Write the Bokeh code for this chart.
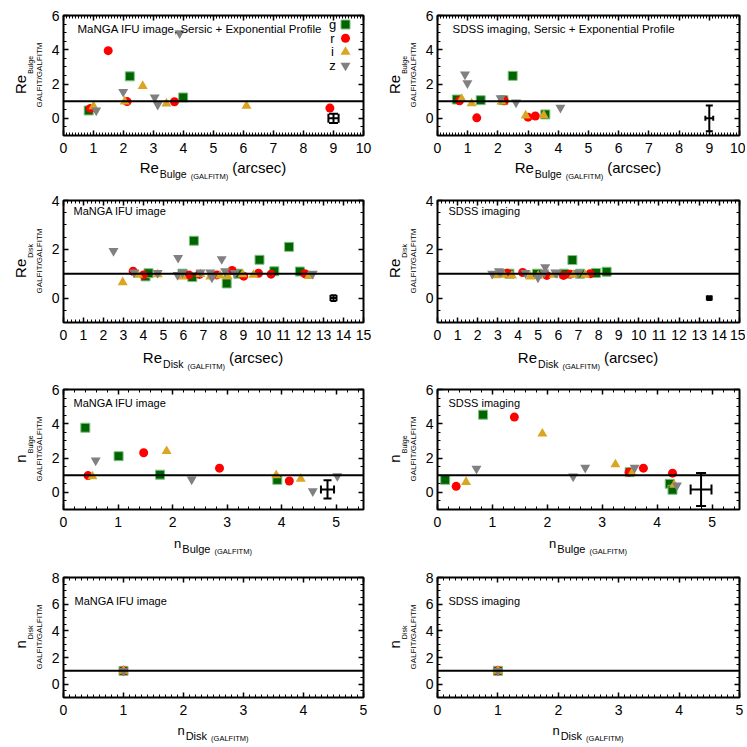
from bokeh.plotting import figure
from bokeh.models import (Range1d, LinearAxis, SingleIntervalTicker, Span, Label,
                          Whisker, TeeHead, ColumnDataSource, Div)
from bokeh.layouts import column, row
from bokeh.embed import file_html
from bokeh.resources import INLINE

# ---------------- data ----------------
# Panel 1: Re bulge, MaNGA IFU
rb_ifu_g_x = [0.84, 2.21, 3.99]
rb_ifu_g_y = [0.46, 2.45, 1.22]
rb_ifu_r_x = [0.90, 1.49, 2.12, 3.70, 8.88]
rb_ifu_r_y = [0.58, 3.95, 0.98, 0.97, 0.60]
rb_ifu_i_x = [1.00, 2.04, 2.64, 3.43, 6.10]
rb_ifu_i_y = [0.70, 0.98, 1.88, 0.86, 0.73]
rb_ifu_z_x = [1.09, 1.99, 3.04, 3.14, 3.87]
rb_ifu_z_y = [0.46, 1.55, 1.22, 0.80, 4.97]
rb_ifu_err = [9.0, 0.0, 0.17, 0.27]

# Panel 2: Re bulge, SDSS
rb_sdss_g_x = [0.64, 1.43, 2.18, 2.49, 3.57]
rb_sdss_g_y = [1.10, 1.06, 1.06, 2.48, 0.23]
rb_sdss_r_x = [0.73, 1.30, 2.21, 3.00, 3.24]
rb_sdss_r_y = [1.03, 0.03, 1.03, 0.07, 0.14]
rb_sdss_i_x = [0.80, 1.13, 2.12, 2.92, 3.52]
rb_sdss_i_y = [1.13, 0.87, 0.98, 0.16, 0.18]
rb_sdss_z_x = [0.91, 0.99, 2.09, 2.60, 4.07]
rb_sdss_z_y = [2.56, 2.05, 1.18, 0.93, 0.62]
rb_sdss_err = [9.0, 0.0, 0.13, 0.75]

# Panel 3: Re disk, MaNGA IFU
rd_ifu_g_x = [4.10, 4.25, 5.95, 6.44, 6.52, 8.16, 8.74, 9.80, 10.54, 11.28, 11.82]
rd_ifu_g_y = [0.89, 1.02, 1.00, 0.86, 2.35, 0.60, 1.00, 1.57, 1.10, 2.10, 1.09]
rd_ifu_r_x = [3.48, 4.00, 6.27, 6.80, 7.67, 8.43, 9.01, 9.75, 10.38, 12.07]
rd_ifu_r_y = [1.10, 0.95, 0.95, 0.97, 0.95, 1.13, 0.90, 1.02, 0.98, 1.00]
rd_ifu_i_x = [2.96, 3.73, 4.71, 5.95, 6.85, 7.34, 7.83, 8.20, 8.95, 9.50, 12.27]
rd_ifu_i_y = [0.65, 0.95, 0.97, 0.88, 0.98, 0.88, 0.92, 0.90, 0.97, 0.95, 0.90]
rd_ifu_z_x = [2.50, 3.53, 4.71, 5.73, 5.70, 5.95, 6.85, 7.34, 7.42, 7.91, 8.08, 8.57, 12.46]
rd_ifu_z_y = [1.93, 1.05, 1.03, 1.65, 0.95, 1.05, 1.05, 1.05, 0.85, 1.60, 1.10, 1.03, 1.00]
rd_ifu_err = [13.5, 0.0, 0.15, 0.12]

# Panel 4: Re disk, SDSS
rd_sdss_g_x = [3.57, 4.94, 6.29, 6.70, 7.08, 7.87, 8.40]
rd_sdss_g_y = [1.00, 1.00, 1.00, 1.56, 1.00, 1.03, 1.08]
rd_sdss_r_x = [3.46, 4.23, 5.43, 6.26, 6.59, 7.58]
rd_sdss_r_y = [1.02, 1.05, 0.93, 0.93, 0.98, 1.00]
rd_sdss_i_x = [2.88, 3.29, 3.70, 4.61, 5.00, 5.77, 6.75, 7.33]
rd_sdss_i_y = [0.93, 0.95, 0.92, 0.88, 0.92, 0.95, 0.95, 0.95]
rd_sdss_z_x = [2.72, 3.05, 3.13, 4.37, 4.99, 5.35, 5.30, 5.85, 5.93, 7.00]
rd_sdss_z_y = [1.00, 1.10, 1.06, 1.03, 0.85, 1.27, 1.05, 1.05, 1.03, 1.03]
rd_sdss_err = [13.5, 0.0, 0.12, 0.08]

# Panel 5: n bulge, MaNGA IFU
nb_ifu_g_x = [0.40, 1.01, 1.77, 3.92]
nb_ifu_g_y = [3.77, 2.11, 1.03, 0.73]
nb_ifu_r_x = [0.45, 1.47, 2.86, 4.14]
nb_ifu_r_y = [0.98, 2.31, 1.41, 0.66]
nb_ifu_i_x = [0.53, 1.89, 3.90, 4.35]
nb_ifu_i_y = [0.93, 2.40, 0.99, 0.79]
nb_ifu_z_x = [0.59, 2.35, 4.57, 5.02]
nb_ifu_z_y = [1.86, 0.75, 0.07, 0.95]
nb_ifu_err = [4.84, 0.17, 0.12, 0.53]

# Panel 6: n bulge, SDSS
nb_sdss_g_x = [0.14, 0.83, 3.50, 4.23, 4.28]
nb_sdss_g_y = [0.73, 4.53, 1.18, 0.50, 0.15]
nb_sdss_r_x = [0.34, 1.40, 3.49, 3.75, 4.28]
nb_sdss_r_y = [0.35, 4.39, 1.18, 1.41, 1.12]
nb_sdss_i_x = [0.52, 1.91, 3.24, 3.54, 4.31]
nb_sdss_i_y = [0.60, 3.42, 1.63, 1.12, 0.44]
nb_sdss_z_x = [0.71, 2.47, 2.69, 3.59, 4.36]
nb_sdss_z_y = [1.38, 0.93, 1.44, 1.44, 0.40]
nb_sdss_err = [4.80, 0.17, 0.19, 0.96]

# Panels 7, 8: n disk (fixed exponential)
nd_ifu_x = [1.0]
nd_ifu_y = [1.0]
nd_sdss_x = [1.0]
nd_sdss_y = [1.0]

BANDS = ["g", "r", "i", "z"]

# ---------------- styling helpers ----------------
FONT = "Liberation Sans"
CSSFONT = "font-family:'Liberation Sans',Arial,sans-serif;color:#000;"

STYLE = {
    "g": dict(marker="square", size=9, fill_color="#006400", line_color="#7fc27f", line_width=1),
    "r": dict(marker="circle", size=9, fill_color="#ff0000", line_color=None),
    "i": dict(marker="triangle", size=10, fill_color="#daa520", line_color=None),
    "z": dict(marker="inverted_triangle", size=10, fill_color="#808080", line_color=None),
}


def make_panel(xr, yr, xint, xminor, yint, yminor, bl, br, bt, bb, fw, fh):
    p = figure(x_range=Range1d(*xr), y_range=Range1d(*yr), frame_width=fw, frame_height=fh,
               min_border_left=bl, min_border_right=br, min_border_top=bt, min_border_bottom=bb,
               output_backend="svg", toolbar_location=None,
               x_axis_location=None, y_axis_location=None)
    p.grid.grid_line_color = None
    p.outline_line_color = "black"
    p.outline_line_width = 2
    p.background_fill_color = "white"
    p.border_fill_color = "white"
    xt = SingleIntervalTicker(interval=xint, num_minor_ticks=xminor)
    yt = SingleIntervalTicker(interval=yint, num_minor_ticks=yminor)
    for loc, tk in (("below", xt), ("above", xt), ("left", yt), ("right", yt)):
        lab = loc in ("below", "left")
        ax = LinearAxis(ticker=tk, axis_line_color=None,
                        major_tick_in=5, major_tick_out=0, minor_tick_in=3, minor_tick_out=0,
                        major_tick_line_width=1.5, minor_tick_line_width=1,
                        major_tick_line_color="black", minor_tick_line_color="black",
                        major_label_text_font=FONT,
                        major_label_text_font_size="14px" if lab else "1px",
                        major_label_text_color="black" if lab else None,
                        major_label_standoff=(7 if loc == "below" else 4) if lab else 0)
        p.add_layout(ax, loc)
    p.add_layout(Span(location=1, dimension="width", line_color="black", line_width=2))
    return p


def add_points(p, xs, ys):
    return [p.scatter(x, y, **STYLE[b]) for b, x, y in zip(BANDS, xs, ys)]


def add_err(p, e, capx, capy):
    cx, cy, dx, dy = e
    src = ColumnDataSource(dict(x=[cx], y=[cy], xl=[cx - dx], xu=[cx + dx],
                                yl=[cy - dy], yu=[cy + dy]))
    p.add_layout(Whisker(source=src, base="x", lower="yl", upper="yu", dimension="height",
                         line_width=2, line_color="black",
                         upper_head=TeeHead(size=capy, line_width=2, line_color="black"),
                         lower_head=TeeHead(size=capy, line_width=2, line_color="black")))
    p.add_layout(Whisker(source=src, base="y", lower="xl", upper="xu", dimension="width",
                         line_width=2, line_color="black",
                         upper_head=TeeHead(size=capx, line_width=2, line_color="black"),
                         lower_head=TeeHead(size=capx, line_width=2, line_color="black")))


def note(p, text, x, y, size="11px"):
    p.add_layout(Label(x=x, y=y, x_units="screen", y_units="screen", text=text,
                       text_font=FONT, text_font_size=size, text_color="black",
                       text_align="left", text_baseline="middle"))


def band_key(p, xr, yr, fw, fh, rends):
    # legend: letter to the left of the symbol, top-right inside the frame
    for k, (b, r) in enumerate(zip(BANDS, rends)):
        off_y = 9 + 13.7 * k
        kx = xr[0] + (fw - 18) / fw * (xr[1] - xr[0])
        ky = yr[1] - off_y / fh * (yr[1] - yr[0])
        p.scatter([kx], [ky], **STYLE[b])
        p.add_layout(Label(x=fw - 31, y=fh - off_y, x_units="screen", y_units="screen",
                           text=b, text_font=FONT, text_font_size="13px", text_color="black",
                           text_align="center", text_baseline="middle"))


def xtitle_div(width, height, cx, top, main, msize, sub, ssize, shift, tail):
    parts = (f'<span style="font-size:{msize}px">{main}</span>'
             f'<span style="font-size:{ssize}px;position:relative;top:{shift}px;margin-left:1px">{sub}</span>'
             f'<span style="font-size:7.5px;position:relative;top:{shift + 1}px;margin-left:4px">(GALFITM)</span>')
    if tail:
        parts += f'<span style="font-size:{msize}px;margin-left:4px">{tail}</span>'
    html = (f'<div style="position:relative;width:{width}px;height:{height}px;{CSSFONT}">'
            f'<div style="position:absolute;left:{cx}px;top:{top}px;transform:translate(-50%,-50%);'
            f'white-space:nowrap;line-height:1;font-size:{msize}px;">{parts}</div></div>')
    return Div(text=html, width=width, height=height, margin=0)


def ytitle_div(width, height, cy, main, msize, sub):
    r = height - cy
    html = (f'<div style="position:relative;width:{width}px;height:{height}px;{CSSFONT}">'
            f'<div style="position:absolute;left:0;top:0;width:{height}px;height:{width}px;'
            f'transform-origin:0 0;transform:translate(0px,{height}px) rotate(-90deg);">'
            f'<div style="position:absolute;left:{r}px;top:20px;transform:translate(-50%,-50%);'
            f'white-space:nowrap;line-height:1;font-size:{msize}px;">'
            f'<span style="font-size:{msize}px">{main}</span>'
            f'<span style="font-size:7px;position:relative;top:7px;margin-left:1px">{sub}</span></div>'
            f'<div style="position:absolute;left:{r}px;top:39.5px;transform:translate(-50%,-50%);'
            f'white-space:nowrap;line-height:1;font-size:8px">GALFIT/GALFITM</div>'
            '</div></div>')
    return Div(text=html, width=width, height=height, margin=0)


# ---------------- layout geometry ----------------
YW = 48
LFW, RFW = 300, 302
BL, LBR, RBR = 15, 11, 6
LCELL = YW + BL + LFW + LBR
RCELL = YW + BL + RFW + RBR
# (frame height, border top, border bottom, x-title height, x-title centre)
ROWS = [(120, 15, 22, 28, 10), (122, 15, 22, 30, 13), (120, 15, 22, 27, 12), (120, 19, 22, 26, 11)]


def cell(p, fw, cellw, rg, ymain, ymsize, ysub, xmain, xmsize, xsub, xssize, tail):
    fh, bt, bb, xh, xc = rg
    figh = bt + fh + bb
    yd = ytitle_div(YW, figh, bt + fh / 2.0, ymain, ymsize, ysub)
    xd = xtitle_div(cellw, xh, YW + BL + fw / 2.0, xc, xmain, xmsize, xsub, xssize, 5, tail)
    return column(row(yd, p), xd)


# ---- Row 1 ----
rg = ROWS[0]
fh, bt, bb = rg[0], rg[1], rg[2]
p1 = make_panel((0, 10), (-1, 6), 1, 10, 2, 4, BL, LBR, bt, bb, LFW, fh)
r1 = add_points(p1, [rb_ifu_g_x, rb_ifu_r_x, rb_ifu_i_x, rb_ifu_z_x],
                [rb_ifu_g_y, rb_ifu_r_y, rb_ifu_i_y, rb_ifu_z_y])
add_err(p1, rb_ifu_err, 9, 9)
note(p1, "MaNGA IFU image, Sersic + Exponential Profile", 14, fh - 13, "11.5px")
band_key(p1, (0, 10), (-1, 6), LFW, fh, r1)
p2 = make_panel((0, 10), (-1, 6), 1, 10, 2, 4, BL, RBR, bt, bb, RFW, fh)
add_points(p2, [rb_sdss_g_x, rb_sdss_r_x, rb_sdss_i_x, rb_sdss_z_x],
           [rb_sdss_g_y, rb_sdss_r_y, rb_sdss_i_y, rb_sdss_z_y])
add_err(p2, rb_sdss_err, 5, 7)
note(p2, "SDSS imaging, Sersic + Exponential Profile", 15, fh - 13, "11.5px")
row1 = row(cell(p1, LFW, LCELL, rg, "Re", 15, "Bulge", "Re", 15, "Bulge", 10.5, "(arcsec)"),
           cell(p2, RFW, RCELL, rg, "Re", 15, "Bulge", "Re", 15, "Bulge", 10.5, "(arcsec)"))

# ---- Row 2 ----
rg = ROWS[1]
fh, bt, bb = rg[0], rg[1], rg[2]
p3 = make_panel((0, 15), (-1, 4), 1, 5, 2, 4, BL, LBR, bt, bb, LFW, fh)
add_points(p3, [rd_ifu_g_x, rd_ifu_r_x, rd_ifu_i_x, rd_ifu_z_x],
           [rd_ifu_g_y, rd_ifu_r_y, rd_ifu_i_y, rd_ifu_z_y])
add_err(p3, rd_ifu_err, 6, 6)
note(p3, "MaNGA IFU image", 10, fh - 10)
p4 = make_panel((0, 15), (-1, 4), 1, 5, 2, 4, BL, RBR, bt, bb, RFW, fh)
add_points(p4, [rd_sdss_g_x, rd_sdss_r_x, rd_sdss_i_x, rd_sdss_z_x],
           [rd_sdss_g_y, rd_sdss_r_y, rd_sdss_i_y, rd_sdss_z_y])
add_err(p4, rd_sdss_err, 5, 5)
note(p4, "SDSS imaging", 11, fh - 10)
row2 = row(cell(p3, LFW, LCELL, rg, "Re", 15, "Disk", "Re", 15, "Disk", 10.5, "(arcsec)"),
           cell(p4, RFW, RCELL, rg, "Re", 15, "Disk", "Re", 15, "Disk", 10.5, "(arcsec)"))

# ---- Row 3 ----
rg = ROWS[2]
fh, bt, bb = rg[0], rg[1], rg[2]
p5 = make_panel((0, 5.5), (-1, 6), 1, 5, 2, 4, BL, LBR, bt, bb, LFW, fh)
add_points(p5, [nb_ifu_g_x, nb_ifu_r_x, nb_ifu_i_x, nb_ifu_z_x],
           [nb_ifu_g_y, nb_ifu_r_y, nb_ifu_i_y, nb_ifu_z_y])
add_err(p5, nb_ifu_err, 8, 8)
note(p5, "MaNGA IFU image", 10, fh - 13)
p6 = make_panel((0, 5.5), (-1, 6), 1, 5, 2, 4, BL, RBR, bt, bb, RFW, fh)
add_points(p6, [nb_sdss_g_x, nb_sdss_r_x, nb_sdss_i_x, nb_sdss_z_x],
           [nb_sdss_g_y, nb_sdss_r_y, nb_sdss_i_y, nb_sdss_z_y])
add_err(p6, nb_sdss_err, 10, 10)
note(p6, "SDSS imaging", 11, fh - 13)
row3 = row(cell(p5, LFW, LCELL, rg, "n", 15, "Bulge", "n", 13, "Bulge", 11, None),
           cell(p6, RFW, RCELL, rg, "n", 15, "Bulge", "n", 13, "Bulge", 11, None))

# ---- Row 4 ----
rg = ROWS[3]
fh, bt, bb = rg[0], rg[1], rg[2]
p7 = make_panel((0, 5), (-1, 8), 1, 10, 2, 4, BL, LBR, bt, bb, LFW, fh)
add_points(p7, [nd_ifu_x] * 4, [nd_ifu_y] * 4)
note(p7, "MaNGA IFU image", 11, fh - 23)
p8 = make_panel((0, 5), (-1, 8), 1, 10, 2, 4, BL, RBR, bt, bb, RFW, fh)
add_points(p8, [nd_sdss_x] * 4, [nd_sdss_y] * 4)
note(p8, "SDSS imaging", 11, fh - 23)
row4 = row(cell(p7, LFW, LCELL, rg, "n", 15, "Disk", "n", 13, "Disk", 11, None),
           cell(p8, RFW, RCELL, rg, "n", 15, "Disk", "n", 13, "Disk", 11, None))

layout = column(row1, row2, row3, row4)
open("out.html", "w").write(file_html(layout, INLINE))
